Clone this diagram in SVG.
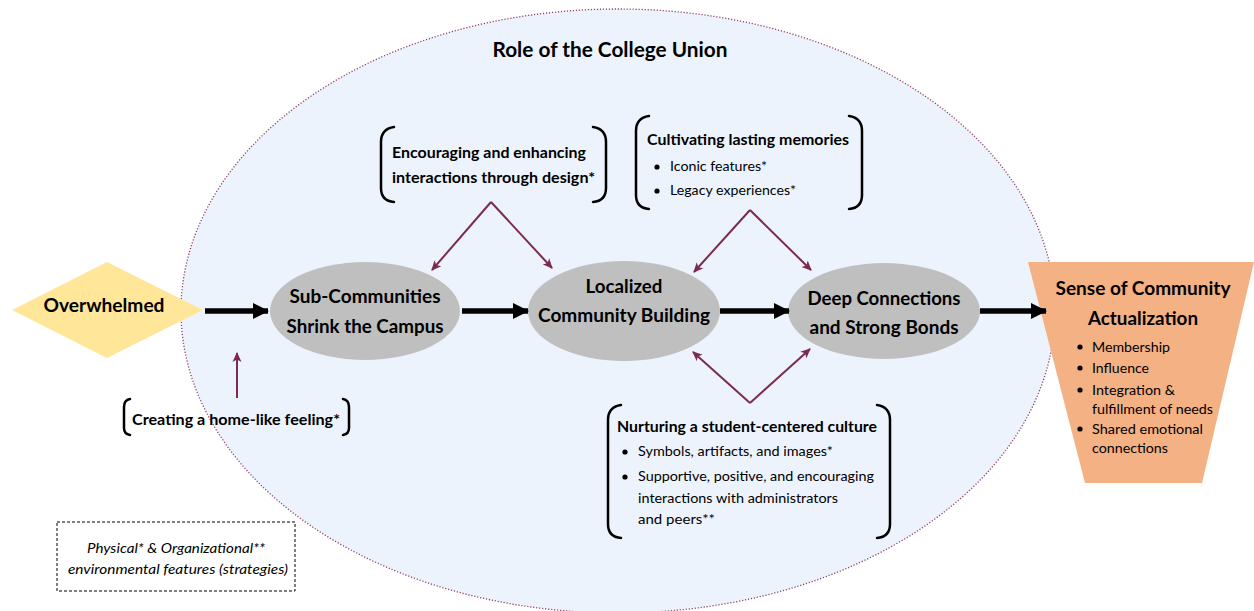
<svg xmlns="http://www.w3.org/2000/svg" width="1254" height="611" viewBox="0 0 1254 611">
<defs>
<style>
text{font-family:Lato,"Open Sans","Liberation Sans",sans-serif;fill:#000;}
.b{font-weight:bold;}
.node{font-size:18.5px;font-weight:bold;}
.hd{font-size:14.5px;font-weight:bold;}
.it{font-size:13.5px;}
.gray{fill:#BFBFBF;}
.brk{fill:none;stroke:#000;stroke-width:2.5;stroke-linecap:round;}
.blk{stroke:#000;stroke-width:5.5;fill:none;}
.pur{stroke:#7B2A56;stroke-width:2;fill:none;}
</style>
<marker id="ah" markerUnits="userSpaceOnUse" viewBox="0 0 16 16" refX="15" refY="8" markerWidth="16" markerHeight="16" orient="auto"><path d="M0,0 L16,8 L0,16 z" fill="#000"/></marker>
<marker id="ap" markerUnits="userSpaceOnUse" viewBox="0 0 10 10" refX="9" refY="5" markerWidth="10" markerHeight="10" orient="auto"><path d="M0,0.5 L10,5 L0,9.5 L2.5,5 z" fill="#7B2A56"/></marker>
</defs>
<g id="union">
<ellipse cx="618" cy="311" rx="437" ry="302" fill="#EDF3FC" stroke="#8E3F68" stroke-width="1.3" stroke-dasharray="1.2 1.8"/>
<text class="b" x="610" y="57" font-size="20" text-anchor="middle" textLength="235" lengthAdjust="spacingAndGlyphs">Role of the College Union</text>
</g>
<g id="overwhelmed">
<polygon points="12,310 107,262 203,310 107,358" fill="#FFE699"/>
<text class="node" x="104" y="312" text-anchor="middle" textLength="121" lengthAdjust="spacingAndGlyphs">Overwhelmed</text>
</g>
<g id="subcommunities">
<ellipse class="gray" cx="365" cy="311" rx="95" ry="49"/>
<text class="node" x="365" y="303" text-anchor="middle" textLength="151" lengthAdjust="spacingAndGlyphs">Sub-Communities</text>
<text class="node" x="365" y="333" text-anchor="middle" textLength="157" lengthAdjust="spacingAndGlyphs">Shrink the Campus</text>
</g>
<g id="localized">
<ellipse class="gray" cx="624" cy="311" rx="96" ry="50"/>
<text class="node" x="624" y="293" text-anchor="middle" textLength="77" lengthAdjust="spacingAndGlyphs">Localized</text>
<text class="node" x="624" y="322" text-anchor="middle" textLength="172" lengthAdjust="spacingAndGlyphs">Community Building</text>
</g>
<g id="deep">
<ellipse class="gray" cx="884" cy="311" rx="96" ry="48"/>
<text class="node" x="884" y="305" text-anchor="middle" textLength="153" lengthAdjust="spacingAndGlyphs">Deep Connections</text>
<text class="node" x="884" y="334" text-anchor="middle" textLength="149" lengthAdjust="spacingAndGlyphs">and Strong Bonds</text>
</g>
<g id="actualization">
<polygon points="1028,262 1254,262 1202,483 1085,483" fill="#F4B183"/>
<text x="1143" y="295" font-size="19.5" class="b" text-anchor="middle" textLength="175" lengthAdjust="spacingAndGlyphs">Sense of Community</text>
<text x="1143" y="325" font-size="19.5" class="b" text-anchor="middle" textLength="110" lengthAdjust="spacingAndGlyphs">Actualization</text>
<g class="it">
<circle cx="1080" cy="347" r="2.6"/><text x="1092" y="352" textLength="78" lengthAdjust="spacingAndGlyphs">Membership</text>
<circle cx="1080" cy="368" r="2.6"/><text x="1092" y="373" textLength="57" lengthAdjust="spacingAndGlyphs">Influence</text>
<circle cx="1080" cy="390" r="2.6"/><text x="1092" y="395" textLength="83" lengthAdjust="spacingAndGlyphs">Integration &amp;</text>
<text x="1092" y="414" textLength="121" lengthAdjust="spacingAndGlyphs">fulfillment of needs</text>
<circle cx="1080" cy="429" r="2.6"/><text x="1092" y="434" textLength="111" lengthAdjust="spacingAndGlyphs">Shared emotional</text>
<text x="1092" y="453" textLength="76" lengthAdjust="spacingAndGlyphs">connections</text>
</g>
</g>
<g id="design">
<path class="brk" d="M394,127 Q381,129 381,142 L381,188 Q381,201 394,202"/>
<path class="brk" d="M593,127 Q606,129 606,142 L606,188 Q606,201 593,202"/>
<text class="hd" x="392" y="158" textLength="194" lengthAdjust="spacingAndGlyphs">Encouraging and enhancing</text>
<text class="hd" x="392" y="183" textLength="203" lengthAdjust="spacingAndGlyphs">interactions through design*</text>
</g>
<g id="memories">
<path class="brk" d="M649,116 Q636,118 636,131 L636,195 Q636,208 649,209"/>
<path class="brk" d="M849,116 Q862,118 862,131 L862,195 Q862,208 849,209"/>
<text class="hd" x="647" y="145" textLength="202" lengthAdjust="spacingAndGlyphs">Cultivating lasting memories</text>
<circle cx="657" cy="167" r="2.6"/><text class="it" x="670" y="171" textLength="97" lengthAdjust="spacingAndGlyphs">Iconic features*</text>
<circle cx="657" cy="191" r="2.6"/><text class="it" x="670" y="195" textLength="126" lengthAdjust="spacingAndGlyphs">Legacy experiences*</text>
</g>
<g id="culture">
<path class="brk" d="M621,405 Q608,407 608,420 L608,524 Q608,537 621,538"/>
<path class="brk" d="M877,405 Q890,407 890,420 L890,524 Q890,537 877,538"/>
<text class="hd" x="617" y="432" textLength="260" lengthAdjust="spacingAndGlyphs">Nurturing a student-centered culture</text>
<circle cx="625" cy="452" r="2.6"/><text class="it" x="638" y="456" textLength="195" lengthAdjust="spacingAndGlyphs">Symbols, artifacts, and images*</text>
<circle cx="625" cy="477" r="2.6"/><text class="it" x="638" y="481" textLength="236" lengthAdjust="spacingAndGlyphs">Supportive, positive, and encouraging</text>
<text class="it" x="638" y="503" textLength="200" lengthAdjust="spacingAndGlyphs">interactions with administrators</text>
<text class="it" x="638" y="524" textLength="77" lengthAdjust="spacingAndGlyphs">and peers**</text>
</g>
<g id="homelike">
<path class="brk" d="M130,399 Q124,400 124,407 L124,428 Q124,434 130,435"/>
<path class="brk" d="M343,399 Q349,400 349,407 L349,428 Q349,434 343,435"/>
<text class="hd" x="132" y="425" textLength="208" lengthAdjust="spacingAndGlyphs">Creating a home-like feeling*</text>
</g>
<g id="legend">
<rect x="57" y="522" width="238" height="69" fill="#fff" stroke="#000" stroke-width="1" stroke-dasharray="3 2"/>
<text class="it" x="176" y="553" font-style="italic" text-anchor="middle" textLength="178" lengthAdjust="spacingAndGlyphs">Physical* &amp; Organizational**</text>
<text class="it" x="178" y="574" font-style="italic" text-anchor="middle" textLength="220" lengthAdjust="spacingAndGlyphs">environmental features (strategies)</text>
</g>
<g id="connectors">
<line class="blk" x1="205" y1="311" x2="268" y2="311" marker-end="url(#ah)"/>
<line class="blk" x1="462" y1="311" x2="528" y2="311" marker-end="url(#ah)"/>
<line class="blk" x1="720" y1="311" x2="789" y2="311" marker-end="url(#ah)"/>
<line class="blk" x1="980" y1="311" x2="1046" y2="311" marker-end="url(#ah)"/>
<line class="pur" x1="237" y1="398" x2="237" y2="353" marker-end="url(#ap)"/>
<line class="pur" x1="491" y1="202" x2="432" y2="270" marker-end="url(#ap)"/>
<line class="pur" x1="491" y1="202" x2="552" y2="268" marker-end="url(#ap)"/>
<line class="pur" x1="750" y1="210" x2="694" y2="272" marker-end="url(#ap)"/>
<line class="pur" x1="750" y1="210" x2="811" y2="270" marker-end="url(#ap)"/>
<line class="pur" x1="750" y1="403" x2="693" y2="352" marker-end="url(#ap)"/>
<line class="pur" x1="750" y1="403" x2="810" y2="349" marker-end="url(#ap)"/>
</g>
</svg>
